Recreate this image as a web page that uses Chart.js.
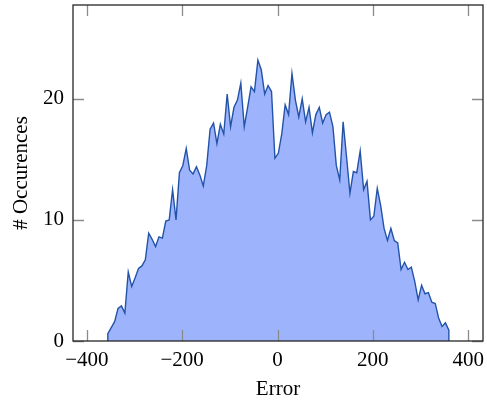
<!DOCTYPE html>
<html>
<head>
<meta charset="utf-8">
<script src="https://cdn.jsdelivr.net/npm/chart.js@4.4.0/dist/chart.umd.min.js"></script>
<style>
  html, body { margin: 0; padding: 0; background: #fff; }
  #wrap { width: 487px; height: 404px; }
</style>
</head>
<body>
<div id="wrap"><canvas id="errChart"></canvas></div>
<script>
// bin centres of the error histogram
const errorBins = [
  -356.0, -348.8, -341.7, -334.5, -327.4, -320.2, -313.1, -305.9, -298.8, -291.6,
  -284.5, -277.3, -270.2, -263.0, -255.8, -248.7, -241.5, -234.4, -227.2, -220.1,
  -212.9, -205.8, -198.6, -191.5, -184.3, -177.2, -170.0, -162.8, -155.7, -148.5,
  -141.4, -134.2, -127.1, -119.9, -112.8, -105.6, -98.5, -91.3, -84.1, -77.0,
  -69.8, -62.7, -55.5, -48.4, -41.2, -34.1, -26.9, -19.8, -12.6, -5.5,
  1.7, 8.9, 16.0, 23.2, 30.3, 37.5, 44.6, 51.8, 58.9, 66.1,
  73.2, 80.4, 87.6, 94.7, 101.9, 109.0, 116.2, 123.3, 130.5, 137.6,
  144.8, 151.9, 159.1, 166.2, 173.4, 180.6, 187.7, 194.9, 202.0, 209.2,
  216.3, 223.5, 230.6, 237.8, 244.9, 252.1, 259.2, 266.4, 273.6, 280.7,
  287.9, 295.0, 302.2, 309.3, 316.5, 323.6, 330.8, 337.9, 345.1, 352.2,
  359.4
];

const occurrences = [
  0.6, 1.1, 1.6, 2.7, 2.9, 2.3, 5.7, 4.5, 5.2, 6.0,
  6.2, 6.7, 8.9, 8.4, 7.8, 8.6, 8.5, 9.9, 10.0, 12.5,
  10.0, 13.9, 14.5, 15.9, 14.1, 13.8, 14.4, 13.7, 12.8, 14.5,
  17.5, 18.0, 16.3, 17.9, 17.1, 20.4, 17.7, 19.3, 19.9, 21.3,
  17.7, 19.3, 21.0, 20.6, 23.2, 22.4, 20.4, 21.1, 20.6, 15.1,
  15.5, 17.1, 19.5, 18.7, 22.1, 19.9, 18.5, 20.0, 18.1, 19.3,
  17.2, 18.7, 19.3, 18.0, 18.7, 18.9, 17.7, 14.5, 13.3, 18.1,
  15.2, 12.2, 14.0, 13.9, 15.7, 12.5, 13.2, 10.0, 10.3, 12.6,
  11.2, 9.3, 8.3, 9.3, 8.3, 8.1, 5.9, 6.5, 5.9, 6.1,
  4.9, 3.4, 4.6, 3.9, 4.0, 3.2, 3.1, 1.9, 1.2, 1.5,
  0.9
];

const xTicks = [-400, -200, 0, 200, 400];
const yTicks = [0, 10, 20];
const xTitle = "Error";
const yTitle = "# Occurences";

const serif = "'Liberation Serif', 'Times New Roman', serif";

// closed outline: drop to zero at both ends, like a filled histogram curve
const points = errorBins.map((x, i) => ({ x, y: occurrences[i] }));
points.unshift({ x: errorBins[0], y: 0 });
points.push({ x: errorBins[errorBins.length - 1], y: 0 });

function minusSign(v) {
  return v < 0 ? "\u2212" + Math.abs(v) : String(v);
}

// box around the plot area plus short inward ticks on all four sides
const frameAndTicks = {
  id: "frameAndTicks",
  afterDatasetsDraw(chart) {
    const { ctx, chartArea: a, scales } = chart;
    const len = 11;
    ctx.save();
    ctx.strokeStyle = "#8c8c8c";
    ctx.lineWidth = 1.3;
    ctx.beginPath();
    xTicks.forEach(v => {
      const px = Math.round(scales.x.getPixelForValue(v)) + 0.5;
      ctx.moveTo(px, a.bottom); ctx.lineTo(px, a.bottom - len);
      ctx.moveTo(px, a.top); ctx.lineTo(px, a.top + len);
    });
    yTicks.forEach(v => {
      const py = Math.round(scales.y.getPixelForValue(v)) + 0.5;
      ctx.moveTo(a.left, py); ctx.lineTo(a.left + len, py);
      ctx.moveTo(a.right, py); ctx.lineTo(a.right - len, py);
    });
    ctx.stroke();
    ctx.strokeStyle = "#262626";
    ctx.lineWidth = 1.3;
    ctx.strokeRect(a.left, a.top, a.right - a.left, a.bottom - a.top);
    ctx.restore();
  }
};

new Chart(document.getElementById("errChart"), {
  type: "line",
  data: {
    datasets: [{
      data: points,
      borderColor: "#2353a8",
      borderWidth: 1.4,
      backgroundColor: "rgba(157, 180, 252, 1)",
      fill: "origin",
      pointRadius: 0,
      tension: 0
    }]
  },
  options: {
    responsive: true,
    maintainAspectRatio: false,
    animation: false,
    events: [],
    layout: { padding: { left: 0, right: 4, top: 5, bottom: 0 } },
    plugins: {
      legend: { display: false },
      tooltip: { enabled: false }
    },
    scales: {
      x: {
        type: "linear",
        min: -429,
        max: 431,
        afterBuildTicks: s => { s.ticks = xTicks.map(v => ({ value: v })); },
        afterFit: s => { s.height = 63; s.paddingLeft = 0; s.paddingRight = 0; },
        grid: { display: false, drawTicks: false },
        border: { display: false },
        ticks: {
          padding: 7,
          color: "#000",
          font: { family: serif, size: 21 },
          maxRotation: 0,
          callback: v => minusSign(v)
        },
        title: {
          display: true,
          text: xTitle,
          color: "#000",
          font: { family: serif, size: 21 },
          padding: { top: 0, bottom: 2 }
        }
      },
      y: {
        min: 0,
        max: 27.75,
        afterBuildTicks: s => { s.ticks = yTicks.map(v => ({ value: v })); },
        afterFit: s => { s.width = 73; s.paddingTop = 0; s.paddingBottom = 0; },
        grid: { display: false, drawTicks: false },
        border: { display: false },
        ticks: {
          padding: 9,
          color: "#000",
          font: { family: serif, size: 21 },
          callback: v => minusSign(v)
        },
        title: {
          display: true,
          text: yTitle,
          color: "#000",
          font: { family: serif, size: 21 },
          padding: { top: 9, bottom: 0 }
        }
      }
    }
  },
  plugins: [frameAndTicks]
});
</script>
</body>
</html>
